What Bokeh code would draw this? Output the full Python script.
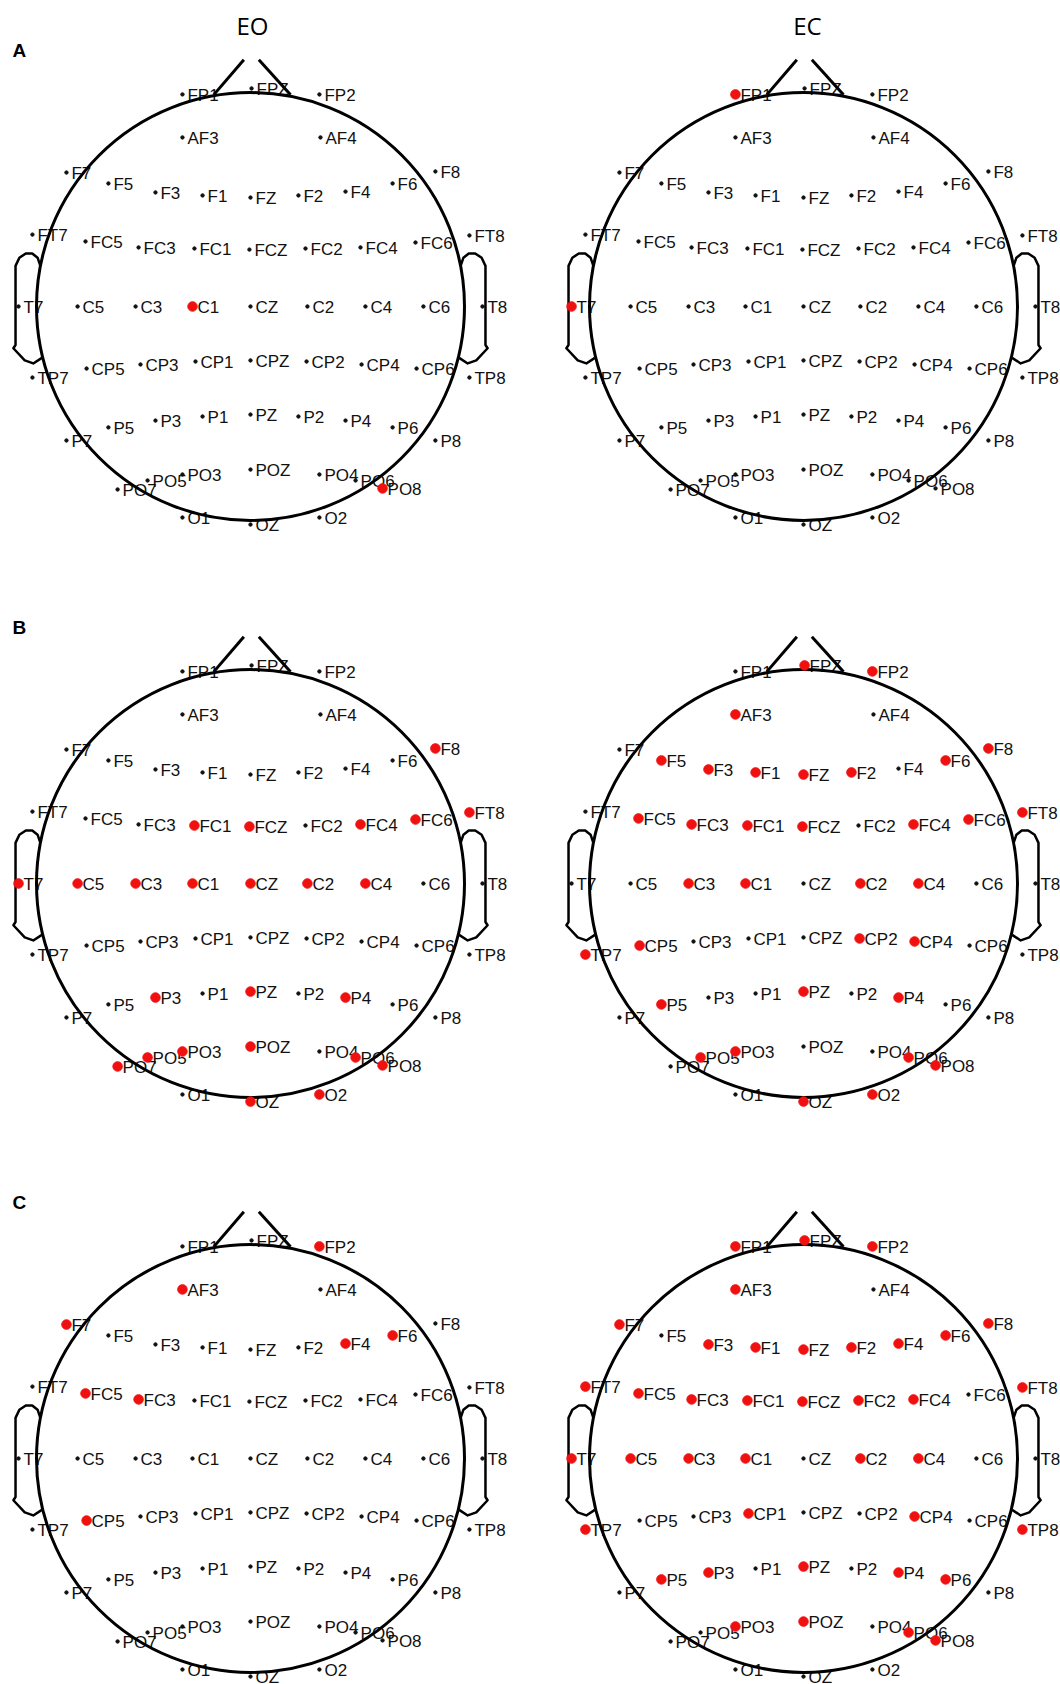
from bokeh.plotting import figure
from bokeh.models import Range1d, ColumnDataSource
from bokeh.embed import file_html
from bokeh.resources import INLINE
from bokeh.core.properties import value

# ---------------- data ----------------
electrodes = ["FP1", "FPZ", "FP2", "AF3", "AF4",
              "F7", "F5", "F3", "F1", "FZ", "F2", "F4", "F6", "F8",
              "FT7", "FC5", "FC3", "FC1", "FCZ", "FC2", "FC4", "FC6", "FT8",
              "T7", "C5", "C3", "C1", "CZ", "C2", "C4", "C6", "T8",
              "TP7", "CP5", "CP3", "CP1", "CPZ", "CP2", "CP4", "CP6", "TP8",
              "P7", "P5", "P3", "P1", "PZ", "P2", "P4", "P6", "P8",
              "PO7", "PO5", "PO3", "POZ", "PO4", "PO6", "PO8",
              "O1", "OZ", "O2"]
# electrode positions in head-radius units (head centre = 0,0; up = front)
elec_x = [-0.318, 0.005, 0.322, -0.318, 0.327,
          -0.860, -0.664, -0.444, -0.224, 0.000, 0.224, 0.444, 0.664, 0.864,
          -1.019, -0.771, -0.523, -0.262, -0.005, 0.257, 0.514, 0.771, 1.023,
          -1.084, -0.808, -0.537, -0.271, 0.000, 0.266, 0.537, 0.808, 1.084,
          -1.019, -0.766, -0.514, -0.257, 0.000, 0.262, 0.519, 0.776, 1.023,
          -0.860, -0.664, -0.444, -0.224, 0.000, 0.224, 0.444, 0.664, 0.864,
          -0.621, -0.481, -0.318, 0.000, 0.322, 0.491, 0.617,
          -0.318, 0.000, 0.322]
elec_y = [0.991, 1.019, 0.991, 0.790, 0.790,
          0.626, 0.575, 0.533, 0.519, 0.509, 0.519, 0.537, 0.575, 0.631,
          0.336, 0.304, 0.276, 0.271, 0.266, 0.271, 0.276, 0.299, 0.332,
          0.0, 0.0, 0.0, 0.0, 0.0, 0.0, 0.0, 0.0, 0.0,
          -0.332, -0.290, -0.271, -0.257, -0.252, -0.257, -0.271, -0.290, -0.332,
          -0.626, -0.565, -0.533, -0.514, -0.505, -0.514, -0.533, -0.565, -0.626,
          -0.855, -0.813, -0.785, -0.762, -0.785, -0.813, -0.850,
          -0.986, -1.019, -0.986]

conditions = ["EO", "EC"]
panel_letters = ["A", "B", "C"]

# significant electrodes (red) per panel / condition
sig_A_EO = ["C1", "PO8"]
sig_A_EC = ["FP1", "T7"]
sig_B_EO = ["F8", "FT8", "FC1", "FCZ", "FC4", "FC6", "T7", "C5", "C3", "C1", "CZ",
            "C2", "C4", "P3", "PZ", "P4", "PO7", "PO5", "PO3", "POZ", "PO6", "PO8",
            "OZ", "O2"]
sig_B_EC = ["FPZ", "FP2", "AF3", "F8", "F5", "F3", "F1", "FZ", "F2", "F6", "FT8",
            "FC5", "FC3", "FC1", "FCZ", "FC4", "FC6", "C3", "C1", "C2", "C4", "TP7",
            "CP5", "CP2", "CP4", "P5", "PZ", "P4", "PO5", "PO3", "PO6", "PO8", "OZ", "O2"]
sig_C_EO = ["FP2", "AF3", "F7", "F4", "F6", "FC5", "FC3", "CP5"]
sig_C_EC = ["FP1", "FPZ", "FP2", "AF3", "F7", "F3", "F1", "FZ", "F2", "F4", "F6", "F8",
            "FT7", "FC5", "FC3", "FC1", "FCZ", "FC2", "FC4", "FT8", "T7", "C5", "C3",
            "C1", "C2", "C4", "TP7", "CP1", "CP4", "TP8", "P5", "P3", "PZ", "P4", "P6",
            "PO3", "POZ", "PO6", "PO8"]
significant = [[sig_A_EO, sig_A_EC], [sig_B_EO, sig_B_EC], [sig_C_EO, sig_C_EC]]

# ---------------- layout / style ----------------
W, H = 1060, 1684
R = 214.0                      # head radius in px
col_cx = [250.0, 803.0]        # head centres (page px)
row_cy = [306.0, 883.0, 1458.0]
title_x = [252.0, 807.0]

# head-outline geometry in head-radius units
ear_x = [-0.982, -0.995, -1.020, -1.050, -1.080, -1.098, -1.098, -1.108, -1.055, -1.015, -0.975]
ear_y = [0.190, 0.228, 0.248, 0.248, 0.228, 0.190, -0.180, -0.195, -0.252, -0.266, -0.240]
nose_lx = [-0.171, -0.031]
nose_ly = [0.990, 1.153]
nose_rx = [0.039, 0.187]
nose_ry = [1.153, 0.990]

p = figure(width=W, height=H, x_range=Range1d(0, W), y_range=Range1d(H, 0),
           output_backend="svg", toolbar_location=None, min_border=0)
p.axis.visible = False
p.grid.visible = False
p.outline_line_color = None
p.background_fill_color = "white"
p.border_fill_color = "white"

FONT = value("Liberation Sans")

for ri, letter in enumerate(panel_letters):
    cy = row_cy[ri]
    # panel letter
    p.text(x=[12], y=[cy - 256], text=[letter], text_font=FONT, text_font_size="19px",
           text_font_style="bold", text_baseline="middle", text_align="left", text_color="black")
    for ci, cond in enumerate(conditions):
        cx = col_cx[ci]
        px = [cx + v * R for v in elec_x]
        py = [cy - v * R for v in elec_y]
        src = ColumnDataSource(dict(x=px, y=py, name=electrodes))
        # labels
        p.text(x="x", y="y", text="name", source=src, text_font=FONT, text_font_size="17px",
               text_baseline="middle", text_align="left", x_offset=5, y_offset=1,
               text_color="#111111")
        # small black electrode dots
        p.scatter(x="x", y="y", source=src, size=3.4, color="#111111", marker="circle")
        # head outline
        p.circle(x=[cx], y=[cy], radius=R, fill_color=None, line_color="black", line_width=3)
        p.line([cx + v * R for v in nose_lx], [cy - v * R for v in nose_ly],
               line_color="black", line_width=3)
        p.line([cx + v * R for v in nose_rx], [cy - v * R for v in nose_ry],
               line_color="black", line_width=3)
        p.line([cx + v * R for v in ear_x], [cy - v * R for v in ear_y],
               line_color="black", line_width=2.5, line_join="round")
        p.line([cx - v * R for v in ear_x], [cy - v * R for v in ear_y],
               line_color="black", line_width=2.5, line_join="round")
        # significant electrodes
        sig = significant[ri][ci]
        rx = [px[electrodes.index(n)] for n in sig]
        ry = [py[electrodes.index(n)] for n in sig]
        p.scatter(x=rx, y=ry, size=9.5, color="#f01010", marker="circle")

# column titles
for ci, cond in enumerate(conditions):
    p.text(x=[title_x[ci]], y=[25], text=[cond], text_font=value("Open Sans"),
           text_font_size="24px", text_baseline="middle", text_align="center",
           text_color="black")

open("out.html", "w").write(file_html(p, INLINE))
